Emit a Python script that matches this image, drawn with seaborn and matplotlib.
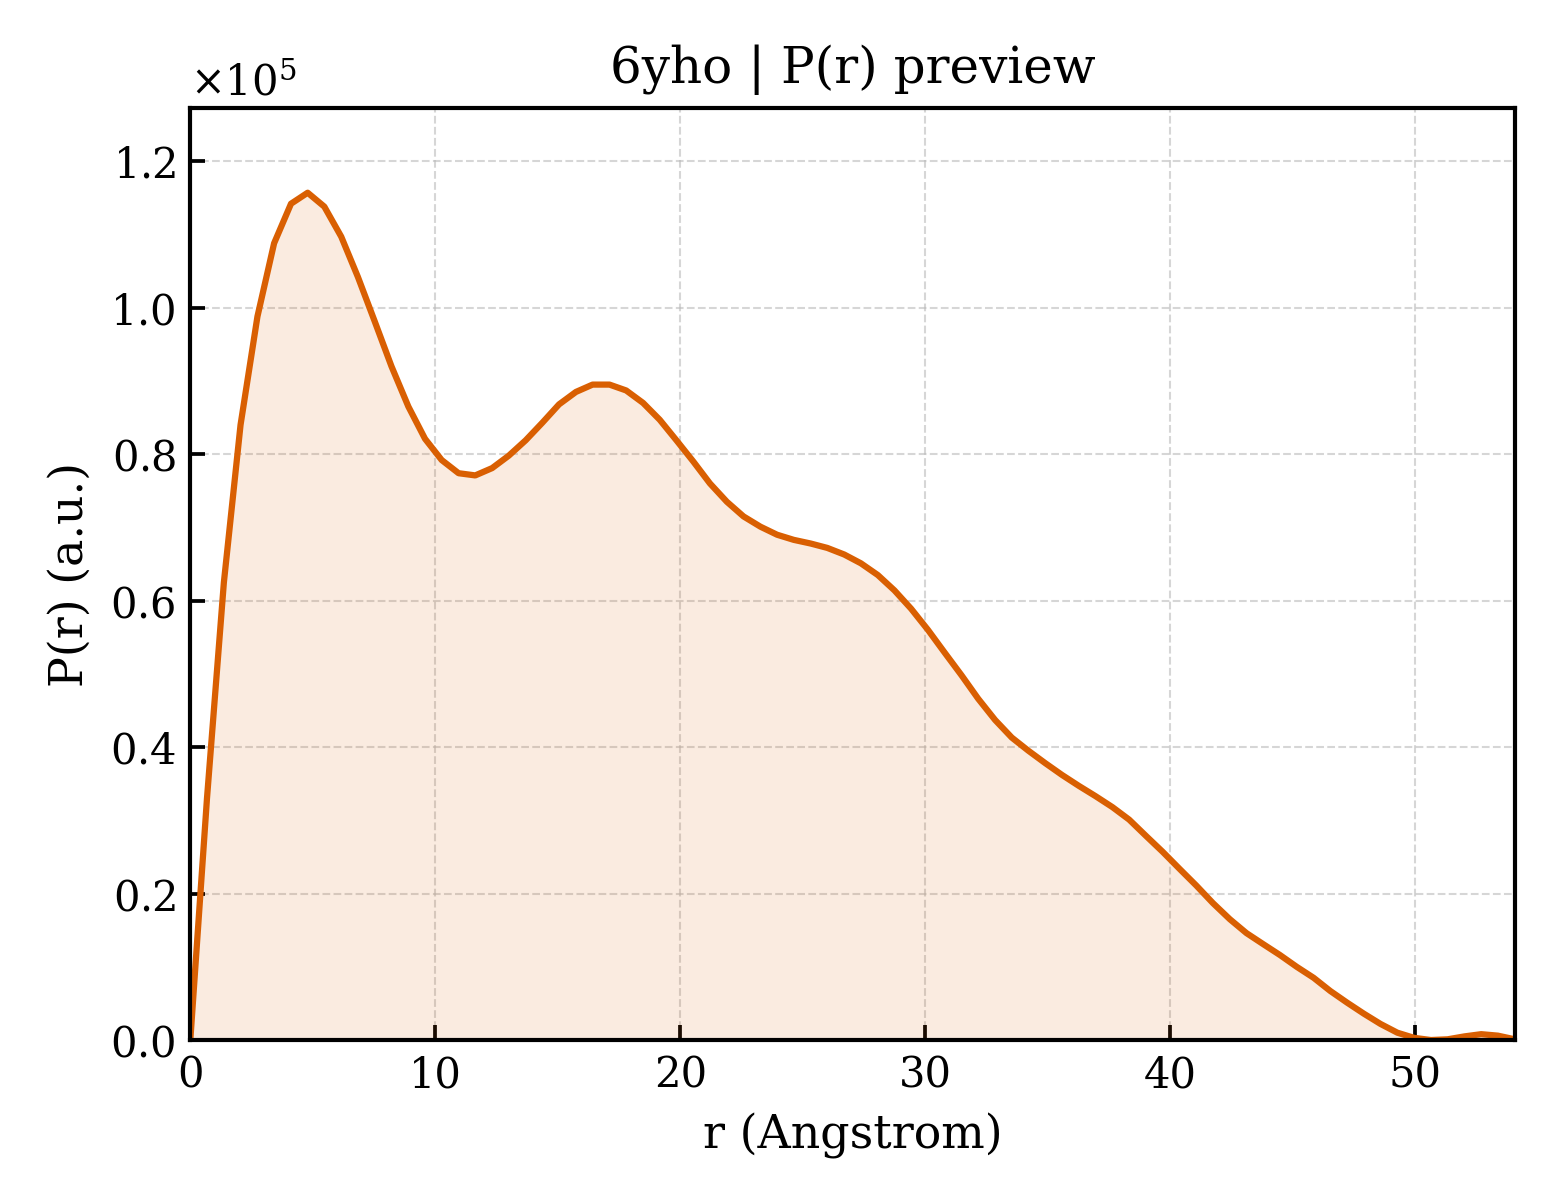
import numpy as np
import pandas as pd
import matplotlib
matplotlib.use("Agg")
import matplotlib.pyplot as plt
import seaborn as sns
from matplotlib.ticker import ScalarFormatter

# P(r) curve (r in Angstrom, P in units of 1e5)
r_values = [
    0.00, 0.68, 1.37, 2.05, 2.74, 3.42, 4.11, 4.79, 5.47, 6.16,
    6.84, 7.53, 8.21, 8.90, 9.58, 10.26, 10.95, 11.63, 12.32, 13.00,
    13.69, 14.37, 15.05, 15.74, 16.42, 17.11, 17.79, 18.48, 19.16, 19.84,
    20.53, 21.21, 21.90, 22.58, 23.27, 23.95, 24.63, 25.32, 26.00, 26.69,
    27.37, 28.06, 28.74, 29.42, 30.11, 30.79, 31.48, 32.16, 32.85, 33.53,
    34.21, 34.90, 35.58, 36.27, 36.95, 37.64, 38.32, 39.00, 39.69, 40.37,
    41.06, 41.74, 42.43, 43.11, 43.79, 44.48, 45.16, 45.85, 46.53, 47.22,
    47.90, 48.58, 49.27, 49.95, 50.64, 51.32, 52.01, 52.69, 53.37, 54.06,
]
p_values = [
    0.000, 0.330, 0.625, 0.840, 0.988, 1.088, 1.142, 1.157, 1.138, 1.097,
    1.042, 0.981, 0.920, 0.865, 0.821, 0.792, 0.774, 0.771, 0.781, 0.798,
    0.819, 0.843, 0.868, 0.885, 0.895, 0.895, 0.887, 0.870, 0.847, 0.819,
    0.790, 0.760, 0.735, 0.715, 0.701, 0.690, 0.683, 0.678, 0.672, 0.663,
    0.651, 0.635, 0.614, 0.589, 0.560, 0.529, 0.498, 0.466, 0.437, 0.413,
    0.395, 0.378, 0.362, 0.347, 0.333, 0.318, 0.301, 0.279, 0.257, 0.234,
    0.211, 0.187, 0.165, 0.146, 0.131, 0.116, 0.100, 0.085, 0.067, 0.051,
    0.036, 0.022, 0.010, 0.003, 0.000, 0.001, 0.005, 0.008, 0.006, 0.001,
]
scale = 1e5

df = pd.DataFrame({"r": r_values, "P": np.array(p_values) * scale})

sns.set_style("ticks")
plt.rcParams["font.family"] = ["DejaVu Serif"]
plt.rcParams["mathtext.fontset"] = "dejavuserif"
plt.rcParams["text.color"] = "black"
plt.rcParams["axes.labelcolor"] = "black"
plt.rcParams["xtick.color"] = "black"
plt.rcParams["ytick.color"] = "black"
plt.rcParams["axes.edgecolor"] = "black"

color = "#D95F02"

fig, ax = plt.subplots(figsize=(5.2, 4), dpi=300)
fig.subplots_adjust(left=0.122, right=0.971, top=0.91, bottom=0.1333)

ax.fill_between(df["r"], df["P"], 0, color=color, alpha=0.12, linewidth=0)
sns.lineplot(data=df, x="r", y="P", color=color, linewidth=1.5, ax=ax)

ax.set_xlim(0, df["r"].max())
ax.set_ylim(0, df["P"].max() * 1.1)

fmt = ScalarFormatter(useMathText=True)
fmt.set_powerlimits((0, 0))
ax.yaxis.set_major_formatter(fmt)
ax.yaxis.get_offset_text().set_fontsize(10)

ax.set_title("6yho | P(r) preview", fontsize=12, color="black")
ax.set_xlabel("r (Angstrom)", fontsize=11)
ax.set_ylabel("P(r) (a.u.)", fontsize=11)

ax.tick_params(direction="in", length=3.5, width=0.9, labelsize=10)
for s in ax.spines.values():
    s.set_linewidth(1.0)
    s.set_visible(True)
ax.grid(True, linestyle="--", linewidth=0.5, color="#bbbbbb", alpha=0.6)

fig.savefig("out.png", dpi=300)
